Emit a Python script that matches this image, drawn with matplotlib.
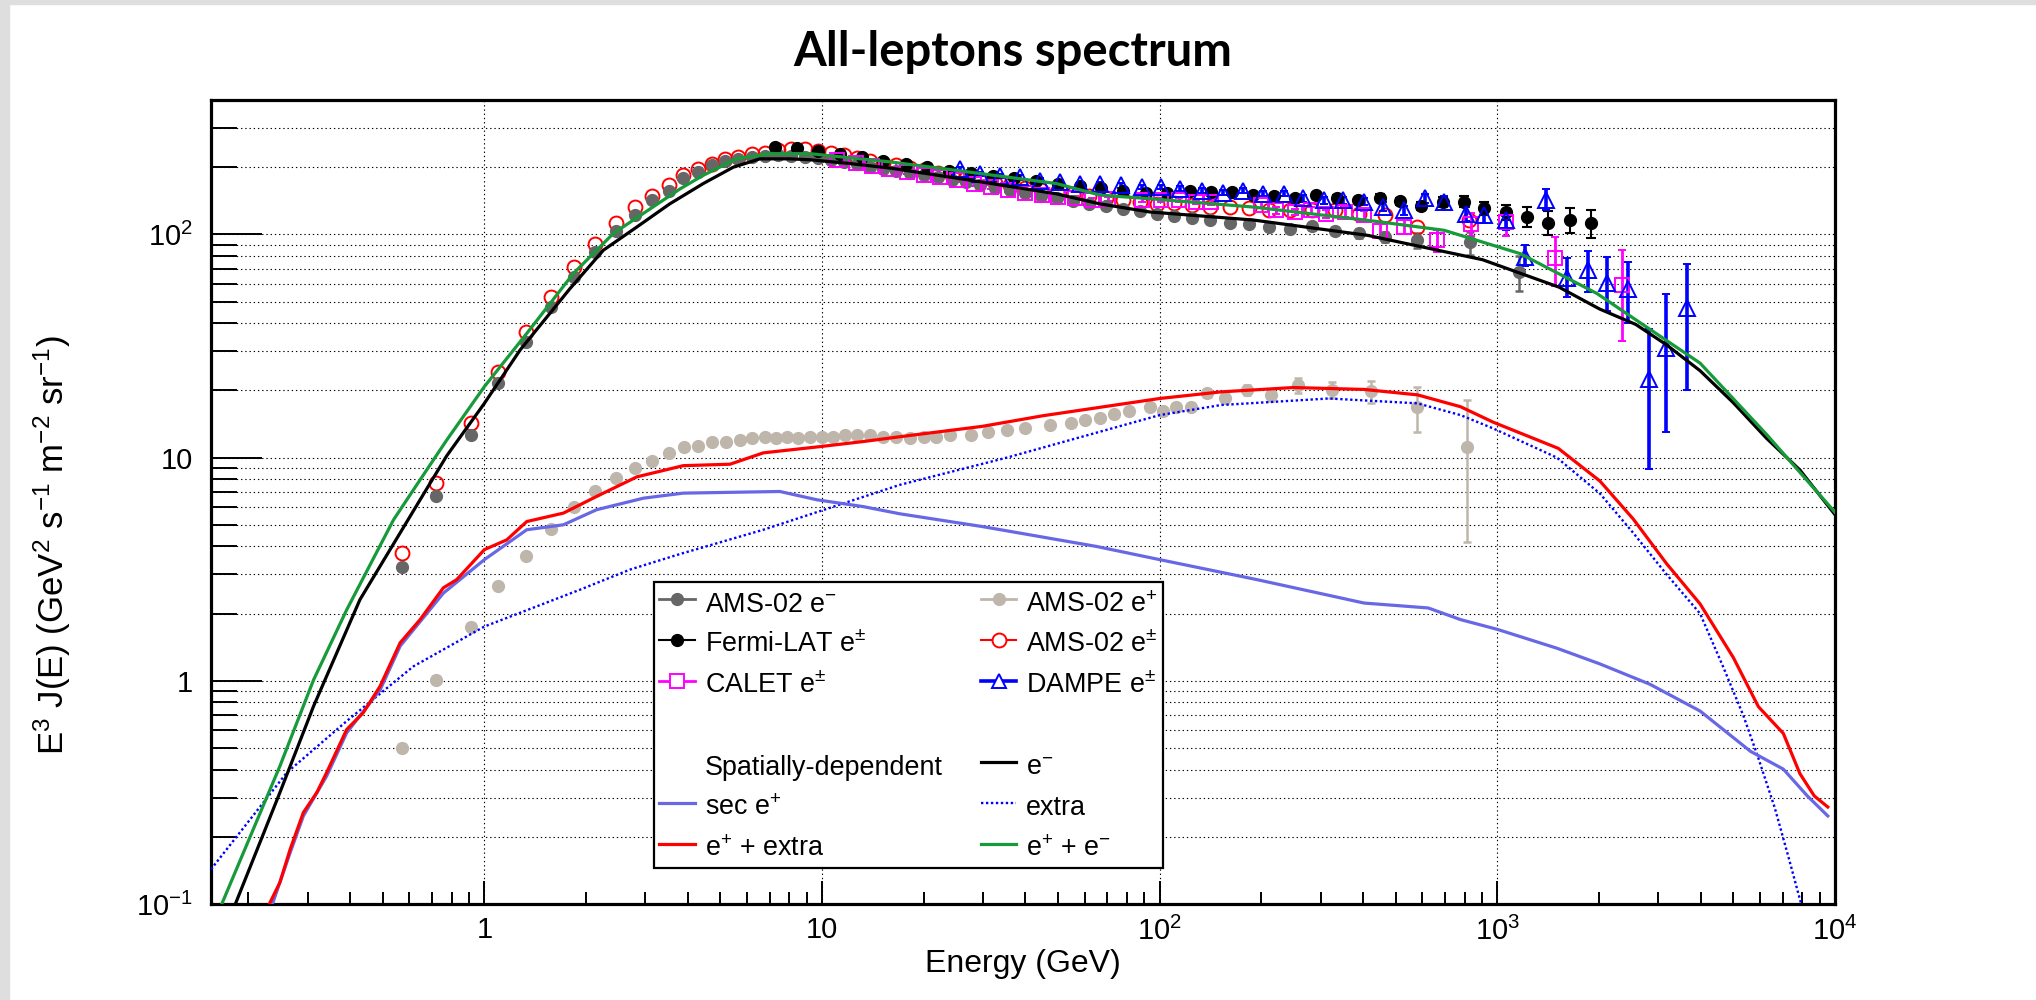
import matplotlib
matplotlib.use('Agg')
import matplotlib.pyplot as plt
from matplotlib.lines import Line2D
from matplotlib.patches import Rectangle
from matplotlib.ticker import FixedLocator, FixedFormatter, LogLocator, NullFormatter
import numpy as np

plt.rcParams['font.family'] = ['Liberation Sans', 'DejaVu Sans']
plt.rcParams['mathtext.fontset'] = 'custom'
plt.rcParams['mathtext.rm'] = 'Liberation Sans'
plt.rcParams['mathtext.it'] = 'Liberation Sans:italic'
plt.rcParams['mathtext.bf'] = 'Liberation Sans:bold'
plt.rcParams['mathtext.default'] = 'regular'

# ---------------- data ----------------
# AMS-02 electrons
E_ams_em = [0.57, 0.72, 0.91, 1.10, 1.33, 1.58, 1.84, 2.13, 2.45, 2.79,
            3.14, 3.51, 3.88, 4.30, 4.71, 5.17, 5.65, 6.20, 6.80, 7.40,
            8.10, 8.90, 9.70, 10.6, 11.6, 12.7, 13.9, 15.2, 16.6, 18.2,
            20.0, 22.0, 24.2, 26.7, 29.4, 32.5, 36.0, 40.0, 44.5, 49.6,
            55.3, 61.8, 69.2, 77.6, 87.2, 98.2, 110, 125, 141, 161,
            184, 211, 243, 283, 331, 390, 464, 580, 830, 1160]
F_ams_em = [3.25, 6.76, 12.6, 21.5, 33.0, 47.3, 64.5, 83.4, 104, 122,
            142, 157, 178, 190, 204, 213, 218, 222, 225, 226,
            225, 223, 220, 215, 211, 206, 201, 197, 193, 189,
            184, 180, 176, 171, 167, 162, 158, 153, 149, 146,
            141, 137, 134, 130, 127, 124, 121, 118, 116, 113,
            111, 108, 106, 109, 104, 101, 97, 94, 92, 68]
err_ams_em = [0.1, 0.1, 0.2, 0.3, 0.4, 0.5, 0.7, 0.8, 1, 1,
              1, 1, 1, 1, 1, 1, 1, 1, 1, 1,
              1, 1, 1, 1, 1, 1, 1, 1, 1, 1,
              1, 1, 1, 1, 1, 1, 1, 1, 1, 1,
              1.5, 1.5, 1.5, 1.5, 1.5, 2, 2, 2, 2, 2,
              2.5, 2.5, 3, 4, 4, 5, 5, 7, 11, 12]

# AMS-02 positrons
E_ams_ep = [0.57, 0.72, 0.91, 1.10, 1.33, 1.58, 1.84, 2.13, 2.45, 2.79,
            3.14, 3.51, 3.90, 4.30, 4.73, 5.20, 5.70, 6.20, 6.80, 7.30,
            7.90, 8.50, 9.20, 10.0, 10.8, 11.7, 12.7, 13.9, 15.2, 16.6,
            18.2, 20.0, 21.7, 24.0, 27.7, 31.0, 35.3, 40.0, 47.3, 54.8,
            60.0, 66.5, 73.0, 80.9, 93.5, 102, 112, 124, 138, 156,
            181, 214, 257, 324, 423, 579, 815]
F_ams_ep = [0.50, 1.01, 1.75, 2.65, 3.63, 4.78, 6.02, 7.05, 8.09, 8.97,
            9.66, 10.5, 11.1, 11.3, 11.7, 11.8, 12.0, 12.2, 12.4, 12.2,
            12.4, 12.2, 12.4, 12.4, 12.4, 12.6, 12.6, 12.6, 12.4, 12.4,
            12.2, 12.4, 12.4, 12.6, 12.6, 13.0, 13.3, 13.6, 14.0, 14.3,
            14.7, 15.0, 15.6, 16.1, 16.9, 16.1, 16.9, 16.9, 19.4, 18.4,
            20.1, 19.1, 21.1, 20.1, 19.8, 16.9, 11.2]
err_ams_ep = [0.02, 0.03, 0.04, 0.05, 0.06, 0.07, 0.08, 0.09, 0.1, 0.1,
              0.1, 0.1, 0.1, 0.1, 0.1, 0.1, 0.1, 0.1, 0.1, 0.1,
              0.1, 0.1, 0.1, 0.1, 0.1, 0.1, 0.1, 0.1, 0.15, 0.15,
              0.15, 0.15, 0.2, 0.2, 0.2, 0.2, 0.25, 0.25, 0.3, 0.35,
              0.4, 0.4, 0.5, 0.5, 0.6, 0.6, 0.7, 0.7, 0.8, 0.8,
              1.0, 1.2, 1.6, 1.6, 2.2, 3.9, 7.0]

# Fermi-LAT e+-
E_fermi = [7.25, 8.41, 9.76, 11.3, 13.1, 15.2, 17.7, 20.5, 23.8, 27.6,
           32.0, 37.1, 43.0, 49.9, 57.9, 67.2, 77.9, 91, 105, 123,
           142, 164, 189, 218, 252, 291, 336, 387, 448, 516,
           596, 688, 794, 916, 1059, 1222, 1410, 1641, 1893]
F_fermi = [246, 244, 236, 229, 222, 214, 207, 200, 193, 188,
           183, 178, 173, 169, 165, 161, 157, 154, 154, 157,
           155, 155, 150, 148, 146, 150, 146, 142, 146, 141,
           134, 140, 140, 131, 126, 120, 113, 116, 112]
err_fermi = [4, 4, 4, 4, 4, 4, 4, 3, 3, 3,
             3, 3, 3, 3, 3, 3, 3, 3, 3, 3,
             3, 3, 3, 3, 3, 4, 4, 4, 5, 5,
             6, 7, 8, 9, 10, 12, 14, 15, 16]

# AMS-02 e+-
E_ams_pm = [0.57, 0.72, 0.91, 1.10, 1.33, 1.58, 1.84, 2.13, 2.45, 2.79,
            3.14, 3.51, 3.88, 4.30, 4.71, 5.17, 5.65, 6.20, 6.80, 7.40,
            8.10, 8.90, 9.70, 10.6, 11.6, 12.7, 13.9, 15.2, 16.6, 18.2,
            20.0, 22.0, 24.2, 26.7, 29.4, 32.5, 36.0, 40.0, 44.5, 49.6,
            55.3, 61.8, 69.2, 77.6, 87.2, 98.2, 110, 125, 141, 161,
            184, 211, 243, 283, 331, 390, 464, 580, 827]
F_ams_pm = [3.74, 7.68, 14.3, 24.2, 36.6, 52.5, 71.5, 91, 113, 132,
            148, 167, 184, 196, 207, 218, 223, 228, 232, 240,
            241, 241, 236, 232, 226, 220, 214, 209, 204, 199,
            194, 189, 184, 179, 175, 170, 166, 162, 158, 155,
            151, 148, 145, 142, 139, 137, 138, 135, 133, 132,
            131, 129, 128, 128, 128, 124, 122, 108, 116]

# CALET e+-
E_calet = [11.1, 12.6, 14.1, 15.8, 17.8, 20.0, 22.4, 25.1, 28.2, 31.6,
           35.5, 39.8, 44.7, 50.1, 56.2, 63.1, 70.2, 88.7, 101, 114,
           128, 142, 199, 221, 252, 280, 310, 354, 403, 448,
           530, 661, 836, 1059, 1485, 2345]
F_calet = [215, 208, 202, 196, 190, 185, 180, 175, 168, 163,
           158, 154, 150, 147, 145, 143, 144.6, 142, 142, 142,
           140, 140, 135.5, 128, 126, 128, 123.5, 126, 121.6, 104,
           108, 94, 111.7, 113.6, 78, 59.3]
err_calet = [4, 4, 4, 4, 4, 4, 3, 3, 3, 3,
             3, 3, 3, 3, 3, 3, 3, 3, 3, 3,
             3, 4, 4, 4, 4, 5, 5, 6, 6, 8,
             8, 11, 13, 15, 19, 26]

# DAMPE e+-
E_dampe = [25.6, 29.4, 33.7, 38.6, 44.2, 50.6, 58.0, 66.5, 76.8, 88.7,
           101, 115, 133, 153.5, 177, 202, 233, 265, 306, 349,
           403, 459, 530, 611, 696, 805, 916, 1059, 1205, 1390,
           1606, 1853, 2113, 2440, 2818, 3160, 3650]
F_dampe = [196, 186, 183, 180, 174, 171, 168, 168, 166, 163,
           163, 160, 157, 154, 157, 152, 152, 145, 142, 142,
           140, 133, 128, 145, 140, 124, 122, 116, 79, 142,
           63.5, 69, 60.3, 57, 22.6, 31, 46.6]
errlo_dampe = [4, 4, 4, 4, 4, 4, 4, 4, 4, 4,
               4, 4, 4, 4, 4, 4, 4, 5, 5, 5,
               5, 6, 6, 7, 8, 9, 10, 11, 7, 14,
               11, 14, 15, 17, 13.7, 18, 26.6]
errhi_dampe = [4, 4, 4, 4, 4, 4, 4, 4, 4, 4,
               4, 4, 4, 4, 4, 4, 4, 5, 5, 5,
               5, 6, 6, 7, 8, 9, 10, 11, 11, 18,
               14.5, 15.6, 18.7, 18.2, 15, 23, 27.4]

# Model curves (spatially-dependent propagation)
E_mod_em = [0.178, 0.248, 0.312, 0.428, 0.645, 0.774, 1.0, 1.275, 1.79, 2.25,
            2.83, 3.54, 4.45, 5.46, 6.55, 8.0, 9.2, 12.0, 16.0, 27.4,
            49.4, 66.5, 93.5, 189, 413, 904, 1524, 2009, 2570, 3170,
            3985, 5000, 6270, 7870, 10000]
F_mod_em = [0.09, 0.316, 0.77, 2.31, 6.47, 10.2, 17.5, 30.3, 57.0, 84.9,
            108, 137, 169, 200, 218, 218, 216, 208, 198, 175,
            152, 137, 126, 116, 99, 77, 58, 46.3, 39.5, 32,
            24.5, 17.6, 12.2, 8.8, 5.55]

E_mod_sum = [0.162, 0.248, 0.312, 0.391, 0.538, 0.645, 0.774, 1.0, 1.335, 1.835,
             2.41, 3.8, 4.45, 5.58, 7.0, 9.2, 16.0, 27.4, 49.4, 66.5,
             93.5, 189, 413, 696, 1168, 1974, 2525, 3985, 6270, 10000]
F_mod_sum = [0.09, 0.415, 1.01, 2.08, 5.26, 7.95, 12.0, 20.8, 36, 66.8,
             101, 160, 184, 218, 230, 230, 211, 190, 169, 150,
             144.5, 132.6, 115.6, 104.3, 82, 54.3, 42.2, 26.5, 12.7, 5.69]

E_mod_ep_extra = [0.223, 0.248, 0.266, 0.291, 0.319, 0.341, 0.391, 0.438, 0.491, 0.563,
                  0.645, 0.756, 0.828, 1.0, 1.165, 1.335, 1.714, 2.15, 2.83, 3.88,
                  5.34, 6.7, 9.87, 13.25, 17.0, 29.8, 45.1, 100, 152, 249,
                  403, 580, 778, 973, 1515, 2013, 2525, 3170, 3985, 5000,
                  5930, 7030, 7870, 8680, 9520]
F_mod_ep_extra = [0.09, 0.125, 0.176, 0.257, 0.316, 0.388, 0.605, 0.72, 0.946, 1.48,
                  1.88, 2.61, 2.84, 3.87, 4.28, 5.17, 5.64, 6.7, 8.2, 9.2,
                  9.34, 10.5, 11.2, 11.8, 12.4, 13.8, 15.4, 18.4, 19.7, 20.6,
                  20.2, 19.1, 16.9, 14.4, 11.0, 7.85, 5.31, 3.35, 2.21, 1.27,
                  0.766, 0.581, 0.384, 0.305, 0.272]

E_mod_sec = [0.230, 0.266, 0.291, 0.341, 0.391, 0.491, 0.563, 0.756, 1.0, 1.335,
             1.714, 2.15, 2.96, 3.88, 7.5, 9.66, 13.25, 17.0, 29.8, 64.9,
             100, 194, 403, 624, 778, 1000, 1500, 2013, 2830, 3985,
             5620, 7030, 8280, 9520]
F_mod_sec = [0.09, 0.17, 0.248, 0.374, 0.585, 0.91, 1.43, 2.47, 3.49, 4.75,
             5.0, 5.84, 6.58, 6.93, 7.05, 6.47, 6.03, 5.6, 4.91, 4.0,
             3.49, 2.84, 2.23, 2.12, 1.88, 1.7, 1.4, 1.19, 0.965, 0.732,
             0.483, 0.402, 0.305, 0.248]

E_mod_extra = [0.155, 0.26, 0.391, 0.616, 1.0, 1.92, 2.7, 3.8, 6.7, 17.0,
               35.3, 100, 152, 317, 580, 778, 973, 1500, 2013, 2525,
               3170, 3985, 4670, 5350, 5930, 6630, 7300, 7870, 8100]
F_mod_extra = [0.143, 0.388, 0.66, 1.16, 1.75, 2.56, 3.15, 3.7, 4.75, 7.55,
               10.0, 15.5, 17.2, 18.4, 17.5, 15.5, 13.5, 10.0, 6.9, 4.6,
               3.0, 2.0, 1.15, 0.70, 0.45, 0.27, 0.16, 0.105, 0.09]

x_ticks = [1, 10, 100, 1000, 10000]
x_ticklabels = ['1', '10', r'$10^{2}$', r'$10^{3}$', r'$10^{4}$']
y_ticks = [0.1, 1, 10, 100]
y_ticklabels = [r'$10^{-1}$', '1', '10', r'$10^{2}$']

# ---------------- figure ----------------
W, H = 2036, 1000
fig = plt.figure(figsize=(W / 100, H / 100), dpi=100)
fig.patch.set_facecolor('white')
fig.add_artist(Rectangle((0, 0), 9 / W, 1, transform=fig.transFigure, color='#dedede', zorder=0))
fig.add_artist(Rectangle((0, 1 - 4 / H), 1, 4 / H, transform=fig.transFigure, color='#dedede', zorder=0))

ax = fig.add_axes([211 / W, 1 - 904 / H, (1835 - 211) / W, (904 - 100) / H])
ax.set_xscale('log')
ax.set_yscale('log')
ax.set_xlim(0.155, 1e4)
ax.set_ylim(0.1, 400)

grid_ls = (0, (1.2, 2.6))
ax.xaxis.grid(True, which='major', color='black', lw=0.8, ls=grid_ls)
ax.yaxis.grid(True, which='both', color='black', lw=0.8, ls=grid_ls)
ax.set_axisbelow(True)

for s in ax.spines.values():
    s.set_linewidth(2.3)

ax.xaxis.set_major_locator(FixedLocator(x_ticks))
ax.xaxis.set_major_formatter(FixedFormatter(x_ticklabels))
ax.xaxis.set_minor_locator(LogLocator(base=10, subs=np.arange(2, 10), numticks=50))
ax.xaxis.set_minor_formatter(NullFormatter())
ax.yaxis.set_major_locator(FixedLocator(y_ticks))
ax.yaxis.set_major_formatter(FixedFormatter(y_ticklabels))
ax.yaxis.set_minor_locator(LogLocator(base=10, subs=np.arange(2, 10), numticks=50))
ax.yaxis.set_minor_formatter(NullFormatter())

ax.tick_params(axis='y', which='major', direction='in', length=37, width=1.4, pad=13, labelsize=21)
ax.tick_params(axis='y', which='minor', direction='in', length=19, width=1.4)
ax.tick_params(axis='x', which='major', direction='in', length=16.5, width=1.4, pad=9, labelsize=21)
ax.tick_params(axis='x', which='minor', direction='in', length=8.6, width=1.4)

# data
c_em = '#666666'
c_ep = '#bfb6ab'
ax.errorbar(E_ams_ep, F_ams_ep, yerr=err_ams_ep, fmt='o', color=c_ep, ms=8.5,
            elinewidth=1.8, capsize=3, capthick=1.8, zorder=3)
ax.errorbar(E_ams_em, F_ams_em, yerr=err_ams_em, fmt='o', color=c_em, ms=8.5,
            elinewidth=1.8, capsize=3, capthick=1.8, zorder=3)
ax.errorbar(E_fermi, F_fermi, yerr=err_fermi, fmt='o', color='black', ms=8.5,
            elinewidth=1.5, capsize=3.5, capthick=1.5, zorder=3)
ax.plot(E_ams_pm, F_ams_pm, 'o', mfc='none', mec='red', ms=10, mew=1.4, zorder=3)
ax.errorbar(E_calet, F_calet, yerr=err_calet, fmt='s', mfc='none', mec='magenta',
            ecolor='magenta', ms=10, mew=1.4, elinewidth=2, capsize=3, capthick=2, zorder=3)
ax.errorbar(E_dampe, F_dampe, yerr=[errlo_dampe, errhi_dampe], fmt='^', mfc='none', mec='blue',
            ecolor='blue', ms=11, mew=1.4, elinewidth=2.6, capsize=3, capthick=2.6, zorder=3)

# model curves
c_sec = '#6868e6'
c_green = '#179a3a'
ax.plot(E_mod_extra, F_mod_extra, color='blue', lw=1.7, ls=(0, (1, 1.1)), zorder=4)
ax.plot(E_mod_sec, F_mod_sec, color=c_sec, lw=2.3, zorder=4)
ax.plot(E_mod_ep_extra, F_mod_ep_extra, color='red', lw=2.3, zorder=4)
ax.plot(E_mod_em, F_mod_em, color='black', lw=2.3, zorder=4)
ax.plot(E_mod_sum, F_mod_sum, color=c_green, lw=2.3, zorder=4)

# legend (ROOT order row-wise -> matplotlib column-major)
h_em = Line2D([], [], color=c_em, marker='o', ms=8.5, lw=2)
h_ep = Line2D([], [], color=c_ep, marker='o', ms=8.5, lw=2)
h_fermi = Line2D([], [], color='black', marker='o', ms=8.5, lw=1.5)
h_pm = Line2D([], [], color='red', marker='o', mfc='white', ms=10, lw=1.5, mew=1.4)
h_calet = Line2D([], [], color='magenta', marker='s', mfc='white', ms=10, lw=2, mew=1.4)
h_dampe = Line2D([], [], color='blue', marker='^', mfc='white', ms=10, lw=2.6, mew=1.4)
h_blank = Line2D([], [], color='none')
h_blank2 = Line2D([], [], color='none')
h_blank3 = Line2D([], [], color='none')
h_e = Line2D([], [], color='black', lw=2.3)
h_sec = Line2D([], [], color=c_sec, lw=2.3)
h_extra = Line2D([], [], color='blue', lw=1.7, ls=(0, (1, 1.1)))
h_red = Line2D([], [], color='red', lw=2.3)
h_green = Line2D([], [], color=c_green, lw=2.3)

handles = [h_em, h_fermi, h_calet, h_blank, h_blank2, h_sec, h_red,
           h_ep, h_pm, h_dampe, h_blank3, h_e, h_extra, h_green]
labels = [r'AMS-02 e$^{-}$', r'Fermi-LAT e$^{\pm}$', r'CALET e$^{\pm}$', ' ',
          'Spatially-dependent', r'sec e$^{+}$', r'e$^{+}$ + extra',
          r'AMS-02 e$^{+}$', r'AMS-02 e$^{\pm}$', r'DAMPE e$^{\pm}$', ' ',
          r'e$^{-}$', 'extra', r'e$^{+}$ + e$^{-}$']
leg = fig.legend(handles, labels, ncol=2, loc='upper left',
                 bbox_to_anchor=(654 / W, 1 - 873 / H, (1163 - 654) / W, (873 - 582) / H),
                 mode='expand', borderaxespad=0, borderpad=0.2, fontsize=19.4,
                 handlelength=1.33, handletextpad=0.35, labelspacing=0.39, handleheight=1.35,
                 frameon=True, fancybox=False, edgecolor='black', framealpha=1)
leg.get_frame().set_linewidth(1.6)

# texts
fig.text(1013 / W, 1 - 52 / H, 'All-leptons spectrum', ha='center', va='center',
         fontsize=34, fontweight='bold', family=['Lato', 'DejaVu Sans'])
fig.text(1023 / W, 1 - 964 / H, 'Energy (GeV)', ha='center', va='center', fontsize=23)
fig.text(52 / W, 1 - 545 / H, r'E$^{3}$ J(E) (GeV$^{2}$ s$^{-1}$ m$^{-2}$ sr$^{-1}$)',
         ha='center', va='center', rotation=90, fontsize=25)

fig.savefig('out.png', dpi=100)
